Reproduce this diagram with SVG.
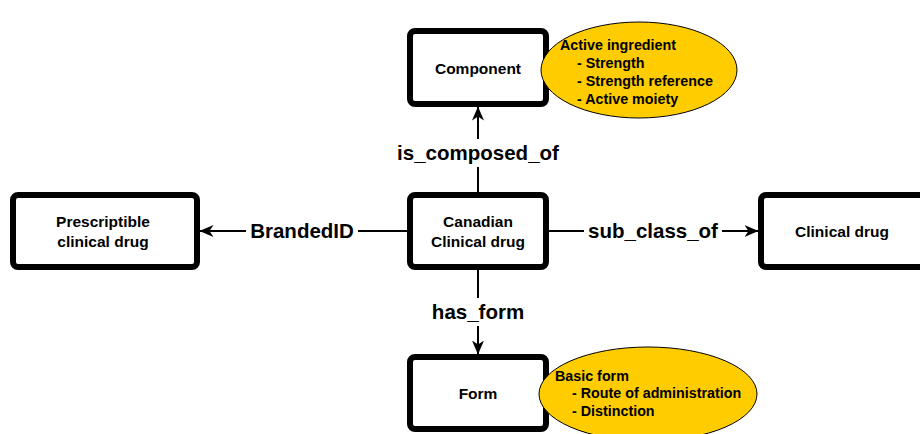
<svg xmlns="http://www.w3.org/2000/svg" width="920" height="434" viewBox="0 0 920 434">
<style>
.box{fill:#fff;stroke:#000;stroke-width:6}
.ell{fill:#FFCC00;stroke:#000;stroke-width:1}
.nt{font-family:"Liberation Sans",Arial,sans-serif;font-weight:bold;font-size:15.5px;fill:#000;text-anchor:middle}
.et{font-family:"Liberation Sans",Arial,sans-serif;font-weight:bold;font-size:14.3px;fill:#000}
.lbl{font-family:"Liberation Sans",Arial,sans-serif;font-weight:bold;font-size:20.5px;fill:#000;text-anchor:middle}
.ln{stroke:#000;stroke-width:2;fill:none}
</style>
<defs>
<marker id="arr" viewBox="0 0 14 12" refX="13.5" refY="6" markerWidth="14" markerHeight="12" markerUnits="userSpaceOnUse" orient="auto">
<path d="M0,0 L14,6 L0,12 L4,6 Z" fill="#000"/>
</marker>
</defs>
<rect width="920" height="434" fill="#fff"/>
<g id="connectors">
<line class="ln" x1="478" y1="192" x2="478" y2="107" marker-end="url(#arr)"/>
<rect x="388" y="139" width="180" height="28" fill="#fff"/>
<text class="lbl" x="478" y="160">is_composed_of</text>
<line class="ln" x1="407" y1="231" x2="200" y2="231" marker-end="url(#arr)"/>
<rect x="246" y="217" width="112" height="28" fill="#fff"/>
<text class="lbl" x="302" y="238">BrandedID</text>
<line class="ln" x1="549" y1="231" x2="758" y2="231" marker-end="url(#arr)"/>
<rect x="584" y="217" width="138" height="28" fill="#fff"/>
<text class="lbl" x="653" y="238">sub_class_of</text>
<line class="ln" x1="478" y1="270" x2="478" y2="354" marker-end="url(#arr)"/>
<rect x="414" y="298" width="128" height="28" fill="#fff"/>
<text class="lbl" x="478" y="319">has_form</text>
</g>
<g id="component">
<rect class="box" x="410" y="31" width="136" height="73" rx="5"/>
<text class="nt" x="478" y="74">Component</text>
</g>
<g id="component-note">
<ellipse class="ell" cx="639" cy="70" rx="98" ry="48"/>
<text class="et" x="560" y="50">Active ingredient</text>
<text class="et" x="577" y="68">- Strength</text>
<text class="et" x="577" y="86">- Strength reference</text>
<text class="et" x="577" y="104">- Active moiety</text>
</g>
<g id="canadian">
<rect class="box" x="410" y="195" width="136" height="72" rx="5"/>
<text class="nt" x="478" y="227">Canadian</text>
<text class="nt" x="478" y="247">Clinical drug</text>
</g>
<g id="prescriptible">
<rect class="box" x="13" y="195" width="184" height="72" rx="5"/>
<text class="nt" x="103" y="227">Prescriptible</text>
<text class="nt" x="103" y="247">clinical drug</text>
</g>
<g id="clinical">
<rect class="box" x="761" y="195" width="200" height="72" rx="5"/>
<text class="nt" x="842" y="237">Clinical drug</text>
</g>
<g id="form">
<rect class="box" x="410" y="357" width="136" height="72" rx="5"/>
<text class="nt" x="478" y="399">Form</text>
</g>
<g id="form-note">
<ellipse class="ell" cx="648" cy="394" rx="109" ry="47"/>
<text class="et" x="555" y="381">Basic form</text>
<text class="et" x="572" y="398">- Route of administration</text>
<text class="et" x="572" y="416">- Distinction</text>
</g>
</svg>
